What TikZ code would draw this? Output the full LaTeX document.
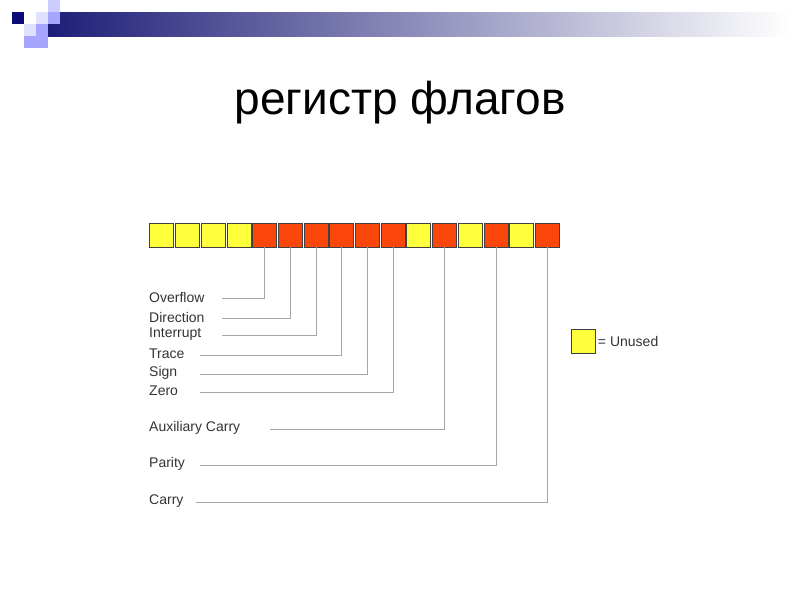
\documentclass[tikz,border=0pt]{standalone}
\usepackage{fontspec}
\setmainfont{Liberation Sans}
\definecolor{navy}{RGB}{12,12,120}
\definecolor{navybar}{RGB}{30,30,120}
\definecolor{flagred}{RGB}{250,70,10}
\definecolor{flagyel}{RGB}{255,255,60}
\begin{document}
\begin{tikzpicture}[x=1pt,y=-1pt,
  cell/.style={draw=black!75,line width=0.9pt,minimum width=24pt,minimum height=24pt,inner sep=0},
  unused/.style={cell,fill=flagyel},
  used/.style={cell,fill=flagred},
  lead/.style={draw=black!35,line width=0.8pt},
  lbl/.style={anchor=west,font=\fontsize{14}{14}\selectfont,text=black!80,inner sep=0}]
\useasboundingbox (0,0) rectangle (800,600);
% header decoration
\shade[left color=navybar,right color=white] (48,12) rectangle (790,36);
\fill[blue!20!white] (48,0) rectangle (60,12);
\fill[navy] (12,12) rectangle (24,24);
\fill[blue!12!white] (36,12) rectangle (48,24);
\fill[blue!35!white] (48,12) rectangle (60,24);
\fill[blue!12!white] (24,24) rectangle (36,36);
\fill[blue!35!white] (36,24) rectangle (48,36);
\fill[blue!35!white] (24,36) rectangle (48,48);
\node (title) at (400,103) {\fontsize{46}{46}\selectfont регистр флагов};
% register cells
\foreach \i/\t in {1/unused,2/unused,3/unused,4/unused,5/used,6/used,7/used,8/used,9/used,10/used,11/unused,12/used,13/unused,14/used,15/unused,16/used}
  \node[\t] (c\i) at ({149+12.85+(\i-1)*25.7},235) {};
% labels and leaders
\foreach \i/\y/\x/\txt in {5/298/222/Overflow,6/318/222/Direction,7/335/222/Interrupt,8/355/200/Trace,9/374/200/Sign,10/392/200/Zero,12/429/270/Auxiliary Carry,14/465/200/Parity,16/502/196/Carry}{
  \node[lbl] (l\i) at (149,\y-1) {\txt};
  \coordinate (k\i) at (\x,\y);
  \draw[lead] (c\i.south) |- (k\i);
}
\node[unused] (key) at (583,341) {};
\node[lbl] (keyl) at (key.east) {\,= Unused};
\end{tikzpicture}
\end{document}
